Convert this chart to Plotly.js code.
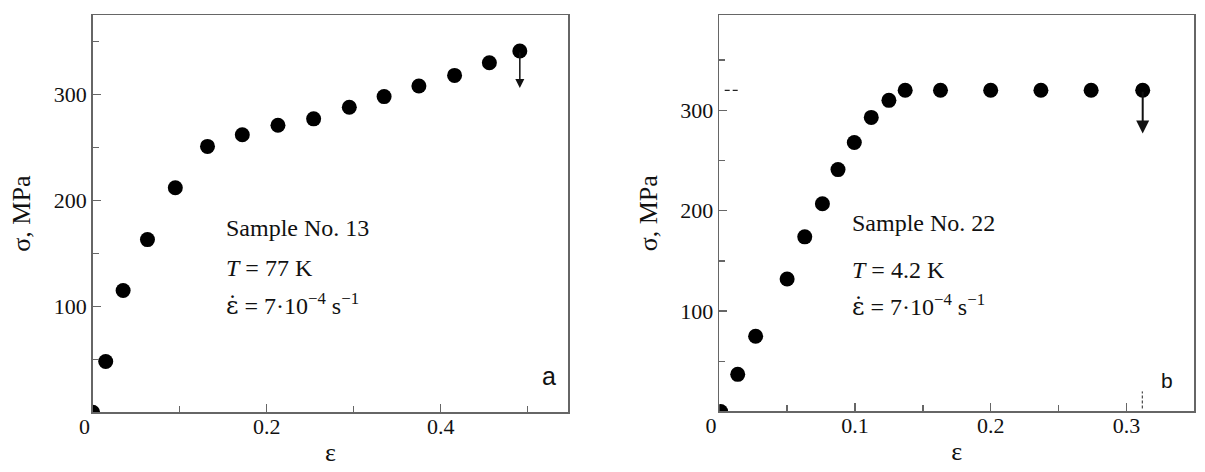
<!DOCTYPE html>
<html>
<head>
<meta charset="utf-8">
<script src="https://cdn.plot.ly/plotly-3.0.1.min.js"></script>
<style>
  html, body { margin: 0; padding: 0; background: #fff; }
  #chart { width: 1205px; height: 472px; }
</style>
</head>
<body>
<div id="chart"></div>
<script>
// panel a: sample No. 13, T = 77 K
var strainA = [0, 0.015, 0.035, 0.063, 0.095, 0.132, 0.172, 0.213, 0.254, 0.295, 0.335, 0.375, 0.416, 0.456, 0.491];
var stressA = [0, 48, 115, 163, 212, 251, 262, 271, 277, 288, 298, 308, 318, 330, 341];
var arrowTipA = 306;

// panel b: sample No. 22, T = 4.2 K
var strainB = [0.001, 0.0136, 0.0268, 0.050, 0.063, 0.076, 0.0875, 0.0995, 0.112, 0.125, 0.137, 0.163, 0.200, 0.237, 0.274, 0.312];
var stressB = [0, 37, 75, 132, 174, 207, 241, 268, 293, 310, 320, 320, 320, 320, 320, 320];
var arrowTipB = 277;

var ticksA = [0, 0.2, 0.4];
var minorA = [0.1, 0.3, 0.5];
var ticksB = [0, 0.1, 0.2, 0.3];
var minorB = [0.05, 0.15, 0.25];
var stressTicks = [100, 200, 300];
var stressMinor = [50, 150, 250, 350];

var serif = 'Liberation Serif, Times New Roman, serif';
var axisColor = '#666';
var epsDot = '<span style="font-family:DejaVu Serif">ε̇</span>';

// the "0" label sits a bit left of the axis in the original
function tickText(v) {
  return v === 0 ? '0\u00a0\u00a0\u00a0' : String(v);
}

function xAxis(domain, range, vals, minor, anchor) {
  return {
    domain: domain, range: range, anchor: anchor,
    showline: true, mirror: true, linecolor: axisColor, linewidth: 1.5,
    ticks: 'inside', ticklen: 8, tickcolor: axisColor, tickwidth: 1.5,
    tickmode: 'array', tickvals: vals, ticktext: vals.map(tickText),
    ticklabelstandoff: -6,
    minor: { tickmode: 'array', tickvals: minor, ticks: 'inside', ticklen: 6, tickcolor: axisColor },
    showgrid: false, zeroline: false, automargin: false,
    tickfont: { family: serif, size: 22, color: '#111' },
    title: { text: 'ε', font: { family: serif, size: 26, color: '#111' }, standoff: 4 }
  };
}

function yAxis(domain, range, anchor) {
  return {
    domain: domain, range: range, anchor: anchor,
    showline: true, mirror: true, linecolor: axisColor, linewidth: 1.5,
    ticks: 'inside', ticklen: 8, tickcolor: axisColor, tickwidth: 1.5,
    tickmode: 'array', tickvals: stressTicks,
    minor: { tickmode: 'array', tickvals: stressMinor, ticks: 'inside', ticklen: 6, tickcolor: axisColor },
    showgrid: false, zeroline: false, automargin: false,
    tickfont: { family: serif, size: 22, color: '#111' },
    title: { text: 'σ, MPa', font: { family: serif, size: 26, color: '#111' }, standoff: 15 }
  };
}

function label(xref, yref, x, y, text, size, font) {
  return {
    xref: xref, yref: yref, x: x, y: y, text: text, showarrow: false,
    xanchor: 'left', yanchor: 'middle',
    font: { family: font || serif, size: size || 24, color: '#111' }
  };
}

function arrow(xref, yref, x, yFrom, yTo, w, s) {
  return {
    xref: xref, yref: yref, axref: xref, ayref: yref,
    x: x, y: yTo, ax: x, ay: yFrom, text: '',
    showarrow: true, arrowhead: 2, arrowsize: s, arrowwidth: w, arrowcolor: '#111'
  };
}

var markerStyle = { color: '#000', size: 15 };

var data = [
  { x: strainA, y: stressA, type: 'scatter', mode: 'markers', marker: markerStyle, xaxis: 'x', yaxis: 'y' },
  { x: strainB, y: stressB, type: 'scatter', mode: 'markers', marker: markerStyle, xaxis: 'x2', yaxis: 'y2' }
];

var lastA = strainA.length - 1;
var lastB = strainB.length - 1;

var layout = {
  width: 1205, height: 472,
  margin: { l: 0, r: 0, t: 0, b: 0 },
  paper_bgcolor: '#fff', plot_bgcolor: '#fff',
  showlegend: false,
  xaxis: xAxis([0.0769, 0.4716], [0, 0.5467], ticksA, minorA, 'y'),
  yaxis: yAxis([0.1265, 0.9682], [0, 375], 'x'),
  xaxis2: xAxis([0.5969, 0.9911], [0, 0.35], ticksB, minorB, 'y2'),
  yaxis2: yAxis([0.1282, 0.9682], [0, 395], 'x2'),
  annotations: [
    label('x', 'y', 0.151, 174, 'Sample No. 13'),
    label('x', 'y', 0.151, 136, '<i>T</i> = 77 K'),
    label('x', 'y', 0.151, 102, epsDot + ' = 7·10<sup>−4</sup> s<sup>−1</sup>'),
    label('x', 'y', 0.514, 34, 'a', 25, 'Liberation Sans, Arial, sans-serif'),
    arrow('x', 'y', strainA[lastA], stressA[lastA], arrowTipA, 1.5, 1.2),
    label('x2', 'y2', 0.0963, 188, 'Sample No. 22'),
    label('x2', 'y2', 0.0963, 141, '<i>T</i> = 4.2 K'),
    label('x2', 'y2', 0.0963, 106, epsDot + ' = 7·10<sup>−4</sup> s<sup>−1</sup>'),
    label('x2', 'y2', 0.324, 31, 'b', 21, 'Liberation Sans, Arial, sans-serif'),
    arrow('x2', 'y2', strainB[lastB], stressB[lastB], arrowTipB, 2, 1.3)
  ],
  shapes: [
    { type: 'line', xref: 'x2', yref: 'y2', x0: 0.004, x1: 0.014, y0: 320, y1: 320,
      line: { color: '#222', width: 1.3, dash: '5px,3px' } },
    { type: 'line', xref: 'x2', yref: 'y2', x0: 0.3117, x1: 0.3117, y0: 3, y1: 20,
      line: { color: '#222', width: 1, dash: '3px,2px' } }
  ]
};

Plotly.newPlot('chart', data, layout, { staticPlot: true });
</script>
</body>
</html>
